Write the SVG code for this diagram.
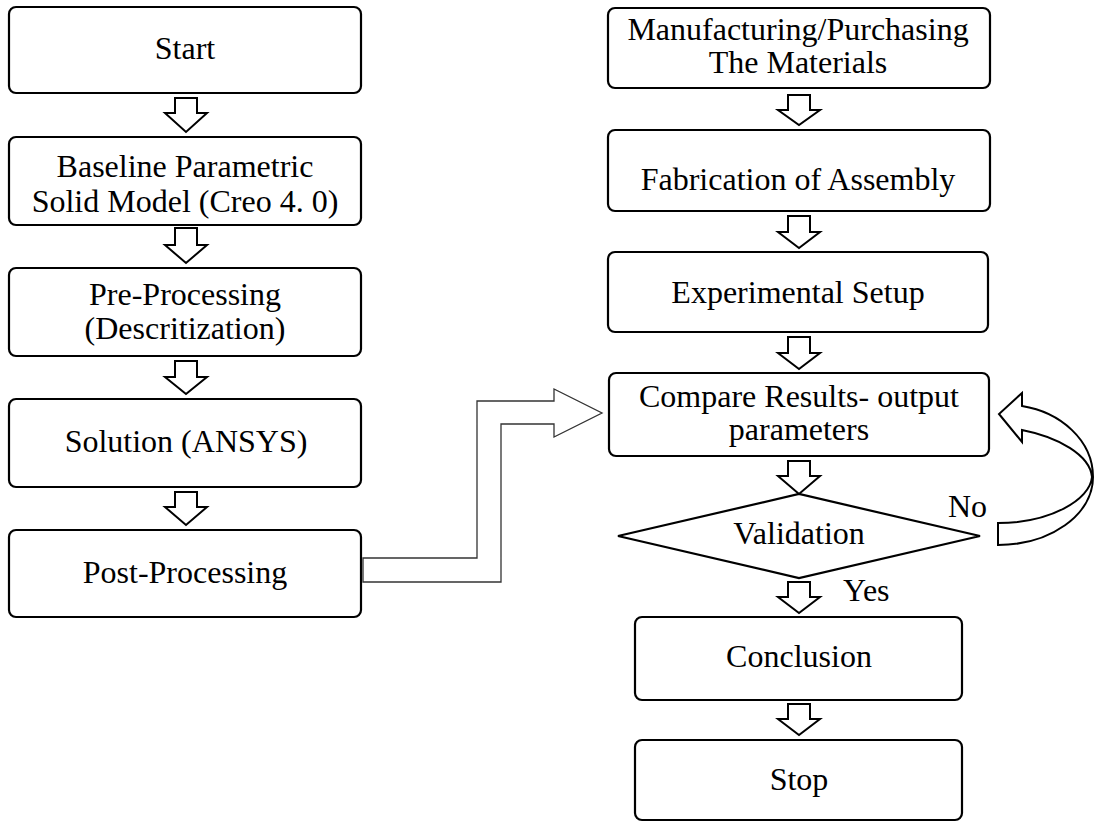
<svg xmlns="http://www.w3.org/2000/svg" width="1094" height="822" viewBox="0 0 1094 822">
<style>
.box{fill:#fff;stroke:#000;stroke-width:2.2}
.t{font-family:"Liberation Serif","Times New Roman",serif;font-size:32px;fill:#000;text-anchor:middle}
.tl{font-family:"Liberation Serif","Times New Roman",serif;font-size:32px;fill:#000}
.ba{fill:#fff;stroke:#000;stroke-width:2;stroke-linejoin:miter}
.conn{fill:#fff;stroke:#333;stroke-width:1.3}
</style>
<rect width="1094" height="822" fill="#fff"/>
<g id="connectors">
  <!-- left column block arrows -->
  <polygon class="ba" points="175,98 197,98 197,113 207,113 186,132 165,113 175,113"/>
  <polygon class="ba" points="175,228 197,228 197,245 207,245 186,263 165,245 175,245"/>
  <polygon class="ba" points="175,361 197,361 197,377 207,377 186,394 165,377 175,377"/>
  <polygon class="ba" points="175,492 197,492 197,507 207,507 186,525 165,507 175,507"/>
  <!-- right column block arrows -->
  <polygon class="ba" points="788,95 810,95 810,110 820,110 799,125 778,110 788,110"/>
  <polygon class="ba" points="788,216 810,216 810,232 820,232 799,248 778,232 788,232"/>
  <polygon class="ba" points="788,337 810,337 810,353 820,353 799,369 778,353 788,353"/>
  <polygon class="ba" points="788,461 810,461 810,476 820,476 799,494 778,476 788,476"/>
  <polygon class="ba" points="788,582 810,582 810,597 820,597 799,613 778,597 788,597"/>
  <polygon class="ba" points="788,704 810,704 810,719 820,719 799,735 778,719 788,719"/>
  <!-- Post-Processing to Compare -->
  <polygon class="conn" points="363,558 477,558 477,401 554,401 554,389 602,413 554,437 554,424 501,424 501,582 363,582"/>
  <!-- No loop back -->
  <path class="ba" d="M1022,406 C1060,412 1093,440 1093,477 C1093,515 1050,545 998,545 L998,523 C1050,523 1090,500 1092,477 C1090,455 1058,437 1022,430 L1022,442 L999,414 L1022,393 Z"/>
</g>
<g id="start"><rect class="box" x="9" y="7" width="352" height="86" rx="7"/><text class="t" x="185" y="59">Start</text></g>
<g id="baseline"><rect class="box" x="9" y="137" width="352" height="88" rx="7"/><text class="t" x="185" y="177">Baseline Parametric</text><text class="t" x="185" y="212">Solid Model (Creo 4. 0)</text></g>
<g id="preprocessing"><rect class="box" x="9" y="268" width="352" height="88" rx="7"/><text class="t" x="185" y="305">Pre-Processing</text><text class="t" x="185" y="339">(Descritization)</text></g>
<g id="solution"><rect class="box" x="9" y="399" width="352" height="88" rx="7"/><text class="t" x="186" y="452">Solution (ANSYS)</text></g>
<g id="postprocessing"><rect class="box" x="9" y="530" width="352" height="87" rx="7"/><text class="t" x="185" y="583">Post-Processing</text></g>
<g id="manufacturing"><rect class="box" x="608" y="8" width="382" height="80" rx="7"/><text class="t" x="798" y="40">Manufacturing/Purchasing</text><text class="t" x="798" y="73">The Materials</text></g>
<g id="fabrication"><rect class="box" x="608" y="130" width="382" height="81" rx="7"/><text class="t" x="798" y="190">Fabrication of Assembly</text></g>
<g id="experimental"><rect class="box" x="608" y="252" width="380" height="80" rx="7"/><text class="t" x="798" y="303">Experimental Setup</text></g>
<g id="compare"><rect class="box" x="609" y="373" width="380" height="83" rx="7"/><text class="t" x="799" y="407">Compare Results- output</text><text class="t" x="799" y="440">parameters</text></g>
<g id="validation"><polygon class="box" points="618,536 799,494 980,536 799,578"/><text class="t" x="799" y="544">Validation</text><text class="tl" x="948" y="517">No</text><text class="tl" x="843" y="601">Yes</text></g>
<g id="conclusion"><rect class="box" x="635" y="617" width="327" height="83" rx="7"/><text class="t" x="799" y="667">Conclusion</text></g>
<g id="stop"><rect class="box" x="635" y="740" width="327" height="80" rx="7"/><text class="t" x="799" y="790">Stop</text></g>
</svg>
